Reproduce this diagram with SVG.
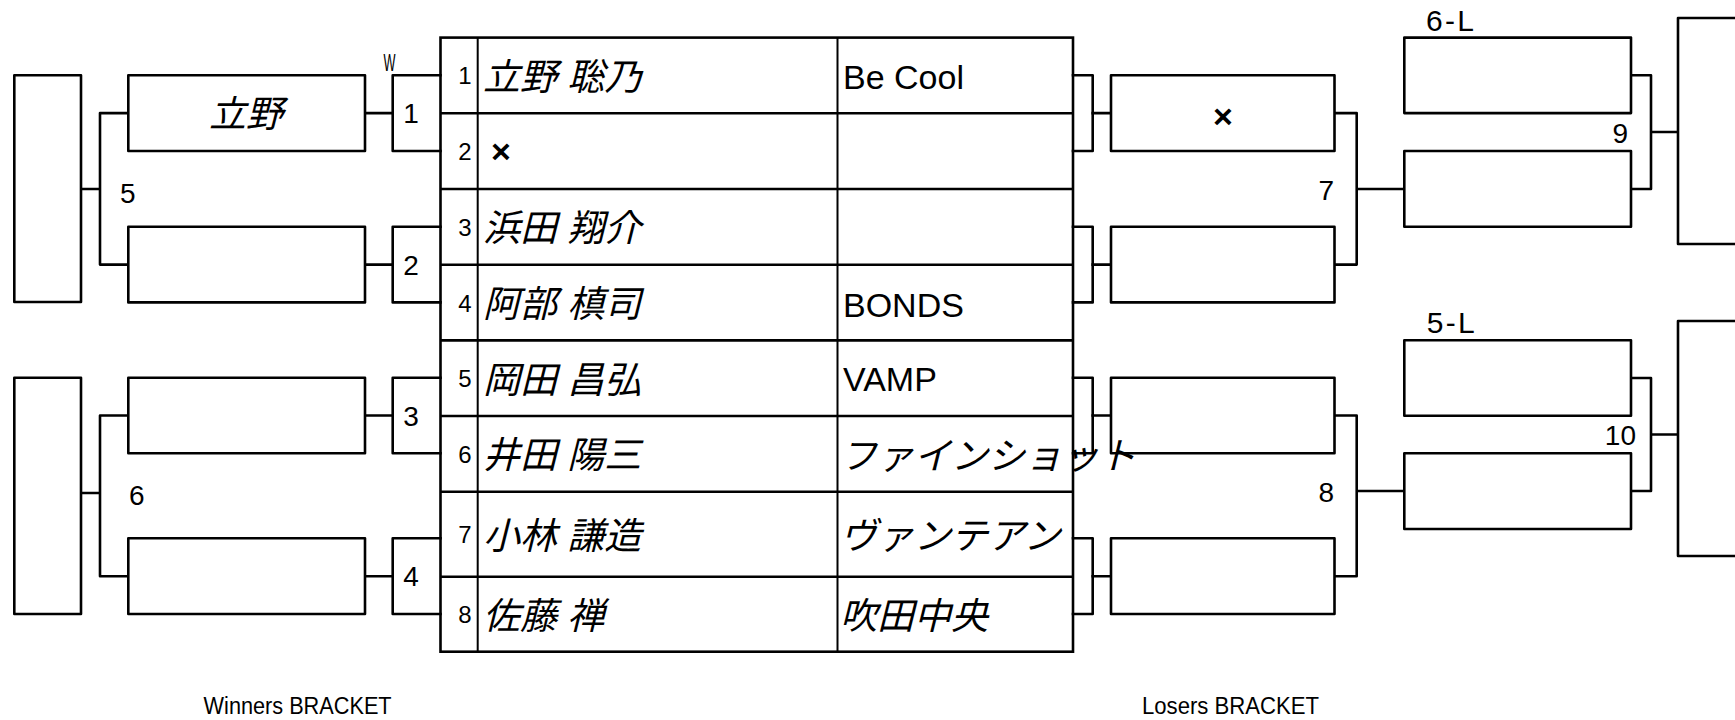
<svg xmlns="http://www.w3.org/2000/svg" width="1735" height="720" viewBox="0 0 1735 720">
<style>
.ln{fill:none;stroke:#000;stroke-width:2.6;stroke-linejoin:round;stroke-linecap:square}
.bx{fill:#fff;stroke:#000;stroke-width:2.6;stroke-linejoin:round}
.tl{fill:none;stroke:#000;stroke-width:2.6}
.tc{fill:none;stroke:#000;stroke-width:2}
.t{font-family:"Liberation Sans",Arial,sans-serif;fill:#000}
.n{font-size:28px}
.rn{font-size:24px;text-anchor:middle}
.jp{font-family:"Liberation Sans","Noto Sans CJK JP",sans-serif;font-style:italic;font-size:37px;fill:#000}
.tm{font-size:34px}
.x{font-family:"Liberation Sans",Arial,sans-serif;font-weight:bold;font-size:34px;fill:#000;text-anchor:middle}
</style>
<rect width="1735" height="720" fill="#fff"/>

<g id="connectors">
  <path class="ln" d="M440.5,75.2H392.7V151H440.5"/>
  <path class="ln" d="M440.5,226.8H392.7V302.4H440.5"/>
  <path class="ln" d="M440.5,377.7H392.7V453.3H440.5"/>
  <path class="ln" d="M440.5,538.3H392.7V614H440.5"/>
  <path class="ln" d="M365,113.1H392.7M365,264.6H392.7M365,415.5H392.7M365,576.2H392.7"/>
  <path class="ln" d="M81,189H100M128.3,113.1H100V264.6H128.3"/>
  <path class="ln" d="M81,493H100M128.3,415.5H100V576.2H128.3"/>
  <path class="ln" d="M1073,75.2H1092.7V151H1073"/>
  <path class="ln" d="M1073,226.8H1092.7V302.4H1073"/>
  <path class="ln" d="M1073,377.7H1092.7V453.3H1073"/>
  <path class="ln" d="M1073,538.3H1092.7V614H1073"/>
  <path class="ln" d="M1092.7,113.1H1111M1092.7,264.6H1111M1092.7,415.5H1111M1092.7,576.2H1111"/>
  <path class="ln" d="M1334.5,113.1H1356.7V264.6H1334.5M1356.7,189H1404.3"/>
  <path class="ln" d="M1334.5,415.5H1356.7V576.2H1334.5M1356.7,491H1404.3"/>
  <path class="ln" d="M1631,75.3H1651V189H1631M1651,132H1678"/>
  <path class="ln" d="M1631,378H1651V491H1631M1651,434.5H1678"/>
</g>

<g id="wb-final-top"><rect class="bx" x="14.3" y="75.2" width="66.7" height="226.8"/></g>
<g id="wb-final-bottom"><rect class="bx" x="14.3" y="377.7" width="66.7" height="236.3"/></g>
<g id="wb-5-label"><text class="t n" x="120" y="202.5">5</text></g>
<g id="wb-6-label"><text class="t n" x="129" y="505">6</text></g>

<g id="wb-w1"><rect class="bx" x="128.3" y="75.2" width="236.7" height="75.8"/><text class="jp" x="246" y="127" text-anchor="middle">立野</text></g>
<g id="wb-w2"><rect class="bx" x="128.3" y="226.8" width="236.7" height="75.6"/></g>
<g id="wb-w3"><rect class="bx" x="128.3" y="377.7" width="236.7" height="75.6"/></g>
<g id="wb-w4"><rect class="bx" x="128.3" y="538.3" width="236.7" height="75.7"/></g>

<g id="match-labels-w">
  <text class="t" x="383.5" y="70.7" font-size="24" textLength="12" lengthAdjust="spacingAndGlyphs">W</text>
  <text class="t n" x="411" y="123" text-anchor="middle">1</text>
  <text class="t n" x="411" y="274.6" text-anchor="middle">2</text>
  <text class="t n" x="411" y="425.5" text-anchor="middle">3</text>
  <text class="t n" x="411" y="586.2" text-anchor="middle">4</text>
</g>

<g id="lb-r1"><rect class="bx" x="1111" y="75.2" width="223.5" height="75.8"/><text class="x" x="1223" y="128">×</text></g>
<g id="lb-r2"><rect class="bx" x="1111" y="226.8" width="223.5" height="75.6"/></g>
<g id="lb-r3"><rect class="bx" x="1111" y="377.7" width="223.5" height="75.6"/></g>
<g id="lb-r4"><rect class="bx" x="1111" y="538.3" width="223.5" height="75.7"/></g>
<g id="lb-7-label"><text class="t n" x="1334" y="200" text-anchor="end">7</text></g>
<g id="lb-8-label"><text class="t n" x="1334" y="502" text-anchor="end">8</text></g>

<g id="lb-6L"><rect class="bx" x="1404.3" y="37.6" width="226.7" height="75.5"/><text class="t" x="1426" y="31" font-size="30" textLength="48" lengthAdjust="spacing">6-L</text></g>
<g id="lb-w7"><rect class="bx" x="1404.3" y="151" width="226.7" height="75.8"/></g>
<g id="lb-5L"><rect class="bx" x="1404.3" y="340.2" width="226.7" height="75.5"/><text class="t" x="1426.7" y="333" font-size="30" textLength="48" lengthAdjust="spacing">5-L</text></g>
<g id="lb-w8"><rect class="bx" x="1404.3" y="453.3" width="226.7" height="75.7"/></g>
<g id="lb-9-label"><text class="t n" x="1628" y="143" text-anchor="end">9</text></g>
<g id="lb-10-label"><text class="t n" x="1636" y="445" text-anchor="end">10</text></g>

<g id="lb-final-top"><rect class="bx" x="1678" y="18" width="100" height="226"/></g>
<g id="lb-final-bottom"><rect class="bx" x="1678" y="321" width="100" height="235"/></g>

<g id="table">
  <rect class="tl" x="440.5" y="37.6" width="632.5" height="614.1" fill="none"/>
  <path class="tl" d="M440.5,113.2H1073M440.5,189H1073M440.5,264.7H1073M440.5,340.4H1073M440.5,416H1073M440.5,491.7H1073M440.5,576.7H1073"/>
  <path class="tc" d="M477.7,37.6V651.7M837.5,37.6V651.7"/>
  <text class="t rn" x="465" y="84.4">1</text>
  <text class="t rn" x="465" y="160.1">2</text>
  <text class="t rn" x="465" y="235.9">3</text>
  <text class="t rn" x="465" y="311.6">4</text>
  <text class="t rn" x="465" y="387.2">5</text>
  <text class="t rn" x="465" y="462.9">6</text>
  <text class="t rn" x="465" y="543.2">7</text>
  <text class="t rn" x="465" y="623.2">8</text>
  <text class="jp" x="483" y="89.8">立野 聡乃</text>
  <text class="x" x="501" y="163">×</text>
  <text class="jp" x="483" y="241.3">浜田 翔介</text>
  <text class="jp" x="483" y="317">阿部 槙司</text>
  <text class="jp" x="483" y="392.6">岡田 昌弘</text>
  <text class="jp" x="483" y="468.3">井田 陽三</text>
  <text class="jp" x="483" y="548.6">小林 謙造</text>
  <text class="jp" x="483" y="628.6">佐藤 禅</text>
  <text class="t tm" x="843" y="88.5">Be Cool</text>
  <text class="t tm" x="843" y="316.5">BONDS</text>
  <text class="t tm" x="843" y="390.5">VAMP</text>
  <text class="jp" x="840" y="468.6" font-size="38">ファインショット</text>
  <text class="jp" x="840" y="548.9" font-size="38">ヴァンテアン</text>
  <text class="jp" x="840" y="628.9" font-size="38">吹田中央</text>
</g>

<g id="footer">
  <text class="t" x="203.6" y="714" font-size="23" textLength="188" lengthAdjust="spacingAndGlyphs">Winners BRACKET</text>
  <text class="t" x="1142" y="714" font-size="23" textLength="177" lengthAdjust="spacingAndGlyphs">Losers BRACKET</text>
</g>
</svg>
